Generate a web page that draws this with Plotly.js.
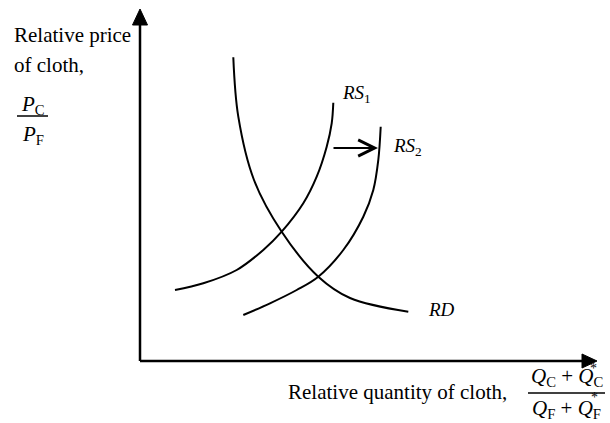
<!DOCTYPE html>
<html><head><meta charset="utf-8">
<script src="https://cdn.plot.ly/plotly-3.0.1.min.js"></script>
<style>html,body{margin:0;padding:0;background:#fff}#chart{width:610px;height:423px}</style>
</head><body><div id="chart"></div>
<script>
// Curve data (abstract units: x = relative quantity, y = relative price)
const rs1X = [35, 63.3, 96.7, 123.3, 141.7, 163.3, 176.7, 186.7, 191.7, 193.3];
const rs1Y = [71, 77.7, 91, 111, 129.3, 157.7, 184.3, 214.3, 237.7, 258.3];
const rs2X = [103.3, 130, 156.7, 178.3, 203.3, 223.3, 233.3, 238.3, 240.7];
const rs2Y = [46, 57.7, 71, 84.3, 111, 144.3, 171, 201, 234.3];
const rdX = [93.3, 98.3, 114, 141.7, 178.3, 210, 268.3];
const rdY = [303.7, 244.3, 181, 129.3, 84.3, 63, 49.3];
const curveLabels = ['<i>RS</i><sub>1</sub>', '<i>RS</i><sub>2</sub>', '<i>RD</i>'];
const shiftFrom = [192, 213];
const shiftTo = [238, 213];

const FONT = '"Liberation Serif", "Times New Roman", serif';
const line = {color: '#000', width: 2, shape: 'spline', smoothing: 1};
const traces = [
  {x: rs1X, y: rs1Y, mode: 'lines', line: line, hoverinfo: 'skip'},
  {x: rs2X, y: rs2Y, mode: 'lines', line: line, hoverinfo: 'skip'},
  {x: rdX, y: rdY, mode: 'lines', line: line, hoverinfo: 'skip'}
];

function txt(text, x, y, size, xanchor) {
  return {text: text, x: x, y: y, xref: 'x', yref: 'y', showarrow: false,
    xanchor: xanchor || 'left', yanchor: 'middle', font: {family: FONT, size: size, color: '#000'}};
}

const annotations = [
  txt('Relative price', -128, 326.5, 21),
  txt('of cloth,', -128, 296.5, 21),
  txt('<i>P</i><sub>C</sub>', -107.5, 256, 21, 'center'),
  txt('<i>P</i><sub>F</sub>', -107.5, 226, 21, 'center'),
  txt('Relative quantity of cloth,', 146, -31, 21),
  txt('<i>Q</i><sub>C</sub> + <i>Q</i><sub>C</sub>', 426.5, -16, 21, 'center'),
  txt('<i>Q</i><sub>F</sub> + <i>Q</i><sub>F</sub>', 426.5, -48, 21, 'center'),
  txt('*', 453, -7, 14, 'center'),
  txt('*', 454, -36, 14, 'center'),
  txt(curveLabels[0], 200, 267, 19),
  txt(curveLabels[1], 251, 214, 19),
  txt(curveLabels[2], 286, 52, 19),
  {x: shiftTo[0], y: shiftTo[1], ax: shiftFrom[0], ay: shiftFrom[1], xref: 'x', yref: 'y',
   axref: 'x', ayref: 'y', text: '', showarrow: true, arrowhead: 5, arrowsize: 1.6,
   arrowwidth: 2, arrowcolor: '#000', standoff: 0, startstandoff: 0}
];

const shapes = [
  {type: 'line', xref: 'x', yref: 'y', x0: 0, y0: 0, x1: 0, y1: 340, line: {color: '#000', width: 2.5}},
  {type: 'path', xref: 'x', yref: 'y', path: 'M -7.5,336 L 7.5,336 L 0,352 Z', fillcolor: '#000', line: {color: '#000', width: 1}},
  {type: 'line', xref: 'x', yref: 'y', x0: 0, y0: 0, x1: 445, y1: 0, line: {color: '#000', width: 2.5}},
  {type: 'path', xref: 'x', yref: 'y', path: 'M 442,-7 L 442,7 L 457,0 Z', fillcolor: '#000', line: {color: '#000', width: 1}},
  {type: 'line', xref: 'x', yref: 'y', x0: -123, y0: 245, x1: -92, y1: 245, line: {color: '#000', width: 1.5}},
  {type: 'line', xref: 'x', yref: 'y', x0: 388, y0: -32, x1: 465, y1: -32, line: {color: '#000', width: 1.5}}
];

const ax = {showgrid: false, zeroline: false, showticklabels: false, ticks: '', showline: false, fixedrange: true};
const layout = {
  width: 610, height: 423, margin: {l: 0, r: 0, t: 0, b: 0},
  paper_bgcolor: '#fff', plot_bgcolor: '#fff', showlegend: false,
  xaxis: Object.assign({range: [-140, 470]}, ax),
  yaxis: Object.assign({range: [-62, 361]}, ax),
  annotations: annotations, shapes: shapes
};
Plotly.newPlot('chart', traces, layout, {staticPlot: true, displayModeBar: false});
</script></body></html>
